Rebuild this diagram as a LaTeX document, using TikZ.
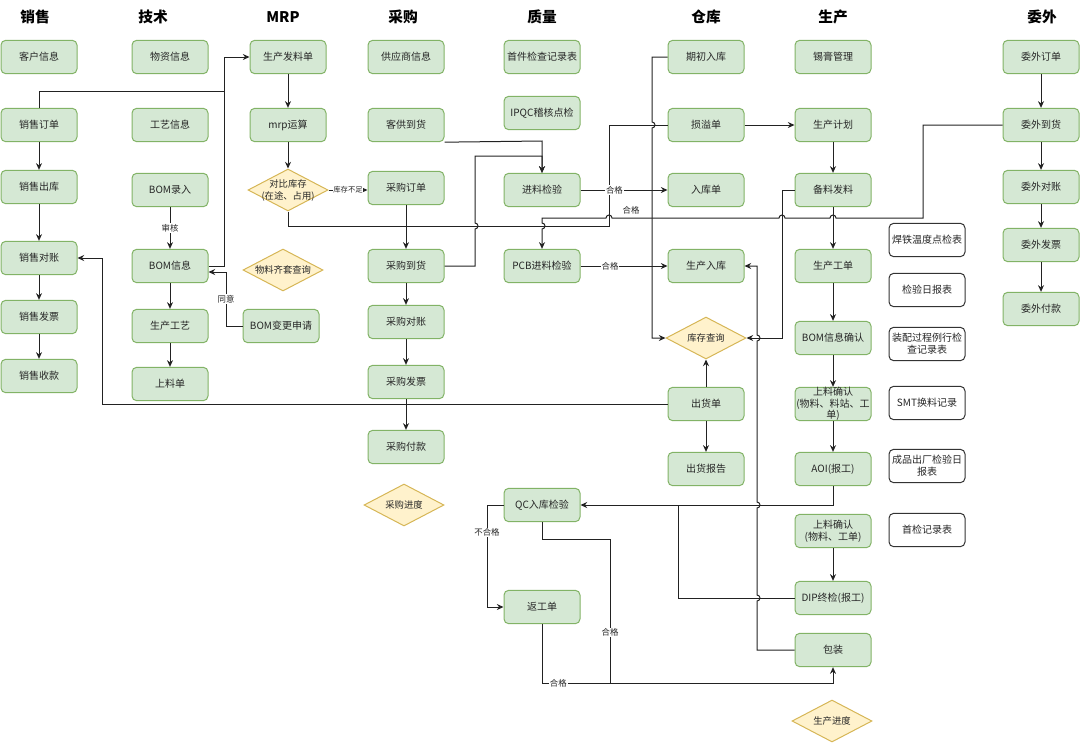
\documentclass[tikz,border=0pt]{standalone}
\usepackage{fontspec}
\setmainfont{Noto Sans CJK SC}
\usetikzlibrary{shapes.geometric,arrows.meta}
\definecolor{gfill}{HTML}{D5E8D4}
\definecolor{gdraw}{HTML}{82B366}
\definecolor{yfill}{HTML}{FFF2CC}
\definecolor{ydraw}{HTML}{D6B656}
\definecolor{linecol}{HTML}{222222}
\begin{document}
\begin{tikzpicture}[x=0.75pt,y=0.75pt,
  gbox/.style={draw=gdraw,fill=gfill,rounded corners=3.5pt,line width=0.75pt,minimum width=57pt,minimum height=25pt,inner sep=0.5pt,align=center,font=\fontsize{7.5pt}{9pt}\selectfont,text=black!85},
  wbox/.style={gbox,draw=black!80,fill=white},
  dia/.style={diamond,draw=ydraw,fill=yfill,line width=0.75pt,minimum width=60pt,minimum height=31.5pt,inner sep=0pt,aspect=1.9},
  txt/.style={align=center,inner sep=0pt,font=\fontsize{7.5pt}{8.6pt}\selectfont,text=black!85},
  dtxt/.style={align=center,inner sep=0pt,font=\fontsize{7pt}{9pt}\selectfont,text=black!85},
  hd/.style={font=\fontsize{11pt}{13pt}\selectfont\bfseries},
  conn/.style={draw=linecol,line width=0.75pt},
  arr/.style={conn,-{Stealth[length=5pt,width=4.5pt]}},
  elab/.style={fill=white,inner sep=0.6pt,font=\fontsize{6.3pt}{7pt}\selectfont,text=black!85},
  slab/.style={elab,font=\fontsize{5.5pt}{6pt}\selectfont},
]
\useasboundingbox (0,0) rectangle (1080,-743);

% headers
\node[hd] (h1) at (35,-17) {销售};
\node[hd] (h2) at (153,-17) {技术};
\node[hd] (h3) at (283,-17) {MRP};
\node[hd] (h4) at (403,-17) {采购};
\node[hd] (h5) at (542,-17) {质量};
\node[hd] (h6) at (706,-17) {仓库};
\node[hd] (h7) at (833,-17) {生产};
\node[hd] (h8) at (1042,-17) {委外};

% 销售
\node[gbox] (khxx) at (39,-57) {客户信息};
\node[gbox] (xsdd) at (39,-125) {销售订单};
\node[gbox] (xsck) at (39,-187) {销售出库};
\node[gbox] (xsdz) at (39,-258) {销售对账};
\node[gbox] (xsfp) at (39,-317) {销售发票};
\node[gbox] (xssk) at (39,-376) {销售收款};

% 技术
\node[gbox] (wzxx) at (170,-57) {物资信息};
\node[gbox] (gyxx) at (170,-125) {工艺信息};
\node[gbox] (bomlr) at (170,-190) {BOM录入};
\node[gbox] (bomxx) at (170,-266) {BOM信息};
\node[gbox] (scgy) at (170,-326) {生产工艺};
\node[gbox] (sld) at (170,-384) {上料单};
\node[gbox] (bombg) at (281,-326) {BOM变更申请};
\node[dia] (wlqt) at (283,-270) {};
\node[dtxt] (wlqtt) at (wlqt) {物料齐套查询};

% MRP
\node[gbox] (scfld) at (288,-57) {生产发料单};
\node[gbox] (mrp) at (288,-125) {mrp运算};
\node[dia] (dbkc) at (288,-190) {};
\node[dtxt] (dbkct) at (dbkc) {对比库存\\(在途、占用)};

% 采购
\node[gbox] (gysxx) at (406,-57) {供应商信息};
\node[gbox] (kgdh) at (406,-125) {客供到货};
\node[gbox] (cgdd) at (406,-188) {采购订单};
\node[gbox] (cgdh) at (406,-266) {采购到货};
\node[gbox] (cgdz) at (406,-322) {采购对账};
\node[gbox] (cgfp) at (406,-382) {采购发票};
\node[gbox] (cgfk) at (406,-447) {采购付款};
\node[dia] (cgjd) at (404,-505) {};
\node[dtxt] (cgjdt) at (cgjd) {采购进度};

% 质量
\node[gbox] (sjjc) at (542,-57) {首件检查记录表};
\node[gbox] (ipqc) at (542,-113) {IPQC稽核点检};
\node[gbox] (jljy) at (542,-190) {进料检验};
\node[gbox] (pcb) at (542,-266) {PCB进料检验};
\node[gbox] (qc) at (542,-505) {QC入库检验};
\node[gbox] (fgd) at (542,-607) {返工单};

% 仓库
\node[gbox] (qcrk0) at (706,-57) {期初入库};
\node[gbox] (syd) at (706,-125) {损溢单};
\node[gbox] (rkd) at (706,-190) {入库单};
\node[gbox] (scrk) at (706,-266) {生产入库};
\node[dia] (kccx) at (706,-338) {};
\node[dtxt] (kccxt) at (kccx) {库存查询};
\node[gbox] (chd) at (706,-404) {出货单};
\node[gbox] (chbg) at (706,-469) {出货报告};

% 生产
\node[gbox] (xggl) at (833,-57) {锡膏管理};
\node[gbox] (scjh) at (833,-125) {生产计划};
\node[gbox] (blfl) at (833,-190) {备料发料};
\node[gbox] (scgd) at (833,-266) {生产工单};
\node[gbox] (bomqr) at (833,-338) {BOM信息确认};
\node[gbox] (slqr1) at (833,-404) {};
\node[txt] (slqr1t) at (slqr1) {上料确认\\(物料、料站、工\\单)};
\node[gbox] (aoi) at (833,-469) {AOI(报工)};
\node[gbox] (slqr2) at (833,-531) {上料确认\\(物料、工单)};
\node[gbox] (dip) at (833,-598) {DIP终检(报工)};
\node[gbox] (bz) at (833,-650) {包装};
\node[dia] (scjd) at (832,-721) {};
\node[dtxt] (scjdt) at (scjd) {生产进度};

% 记录表
\node[wbox] (hd1) at (927,-240) {焊铁温度点检表};
\node[wbox] (jyrb) at (927,-290) {检验日报表};
\node[wbox] (zpgc) at (927,-344) {装配过程例行检\\查记录表};
\node[wbox] (smt) at (927,-403) {SMT换料记录};
\node[wbox] (cpcc) at (927,-466) {成品出厂检验日\\报表};
\node[wbox] (sjjl) at (927,-530) {首检记录表};

% 委外
\node[gbox] (wwdd) at (1041,-57) {委外订单};
\node[gbox] (wwdh) at (1041,-125) {委外到货};
\node[gbox] (wwdz) at (1041,-187) {委外对账};
\node[gbox] (wwfp) at (1041,-245) {委外发票};
\node[gbox] (wwfk) at (1041,-309) {委外付款};

% ---------- connectors ----------
% 销售 chain
\draw[arr] (xsdd) -- (xsck);
\draw[arr] (xsck) -- (xsdz);
\draw[arr] (xsdz) -- (xsfp);
\draw[arr] (xsfp) -- (xssk);
\draw[conn] (xsdd.north) -- (39,-91) -- (224,-91);

% 技术
\draw[arr] (bomxx.east) -- (224,-266) -- (224,-57) -- (scfld.west);
\draw[arr] (bomlr) -- node[elab]{审核} (bomxx);
\draw[arr] (bomxx) -- (scgy);
\draw[arr] (scgy) -- (sld);
\draw[arr] (bombg.west) -- (226,-326) -- node[elab,pos=0.5]{同意} (226,-272) -- (bomxx.east |- 0,-272);

% MRP
\draw[arr] (scfld) -- (mrp);
\draw[arr] (mrp) -- (dbkc);
\draw[arr] (dbkc.east) -- node[slab]{库存不足} (cgdd.west |- dbkc.east);
\draw[conn] (dbkc.south) -- (288,-226) -- (609,-226) -- (609,-125) -- (syd.west);

% 采购
\draw[arr] (cgdd) -- (cgdh);
\draw[arr] (cgdh) -- (cgdz);
\draw[arr] (cgdz) -- (cgfp);
\draw[arr] (cgfp) -- (cgfk);
\draw[arr] (kgdh.south east) -- (542,-141) -- (jljy.north);
\draw[arr] (cgdh.east) -- (475,-266) -- (475,-229) arc[start angle=-90,end angle=90,radius=3] -- (475,-156) -- (542,-156) -- (jljy.north);

% 质量
\draw[arr] (jljy) -- node[elab,pos=0.39]{合格} (rkd);
\draw[arr] (pcb) -- node[elab,pos=0.34]{合格} (scrk);
\draw[arr] (wwdh.west) -- (923,-125) -- (923,-218) -- (836,-218) arc[start angle=0,end angle=180,radius=3] -- (785,-218) arc[start angle=0,end angle=180,radius=3] -- (612,-218) arc[start angle=0,end angle=180,radius=3] -- (542,-218) -- (542,-223) arc[start angle=90,end angle=-90,radius=3] -- (pcb.north);
\node[elab,fill=none] (hg3) at (631,-210) {合格};

% 仓库
\draw[arr] (qcrk0.west) -- (652,-57) -- (652,-122) arc[start angle=90,end angle=-90,radius=3] -- (652,-338) -- (kccx.west);
\draw[arr] (syd) -- (scjh);
\draw[arr] (blfl.west) -- (782,-190) -- (782,-338) -- (kccx.east);
\draw[arr] (chd) -- (kccx);
\draw[arr] (chd) -- (chbg);
\draw[arr] (chd.west) -- (102,-404) -- (102,-258) -- (xsdz.east);
\draw[arr] (bz.west) -- (757,-650) -- (757,-601) arc[start angle=-90,end angle=90,radius=3] -- (757,-508) arc[start angle=-90,end angle=90,radius=3] -- (757,-341) arc[start angle=-90,end angle=90,radius=3] -- (757,-266) -- (scrk.east);

% 生产
\draw[arr] (scjh) -- (blfl);
\draw[arr] (blfl) -- (scgd);
\draw[arr] (scgd) -- (bomqr);
\draw[arr] (bomqr) -- (slqr1);
\draw[arr] (slqr1) -- (aoi);
\draw[arr] (slqr2) -- (dip);
\draw[arr] (aoi.south) -- (833,-505) -- (qc.east);
\draw[conn] (dip.west) -- (678,-598) -- (678,-505);
\draw[arr] (qc.west) -- (487,-505) -- node[elab,pos=0.27]{不合格} (487,-607) -- (fgd.west);
\draw[arr] (qc.south) -- (542,-539) -- (610,-539) -- node[elab,pos=0.65]{合格} (610,-683) -- (833,-683) -- (bz.south);
\draw[conn] (fgd.south) -- (542,-683) -- node[elab,pos=0.24]{合格} (610,-683);

% 委外
\draw[arr] (wwdd) -- (wwdh);
\draw[arr] (wwdh) -- (wwdz);
\draw[arr] (wwdz) -- (wwfp);
\draw[arr] (wwfp) -- (wwfk);
\end{tikzpicture}
\end{document}
